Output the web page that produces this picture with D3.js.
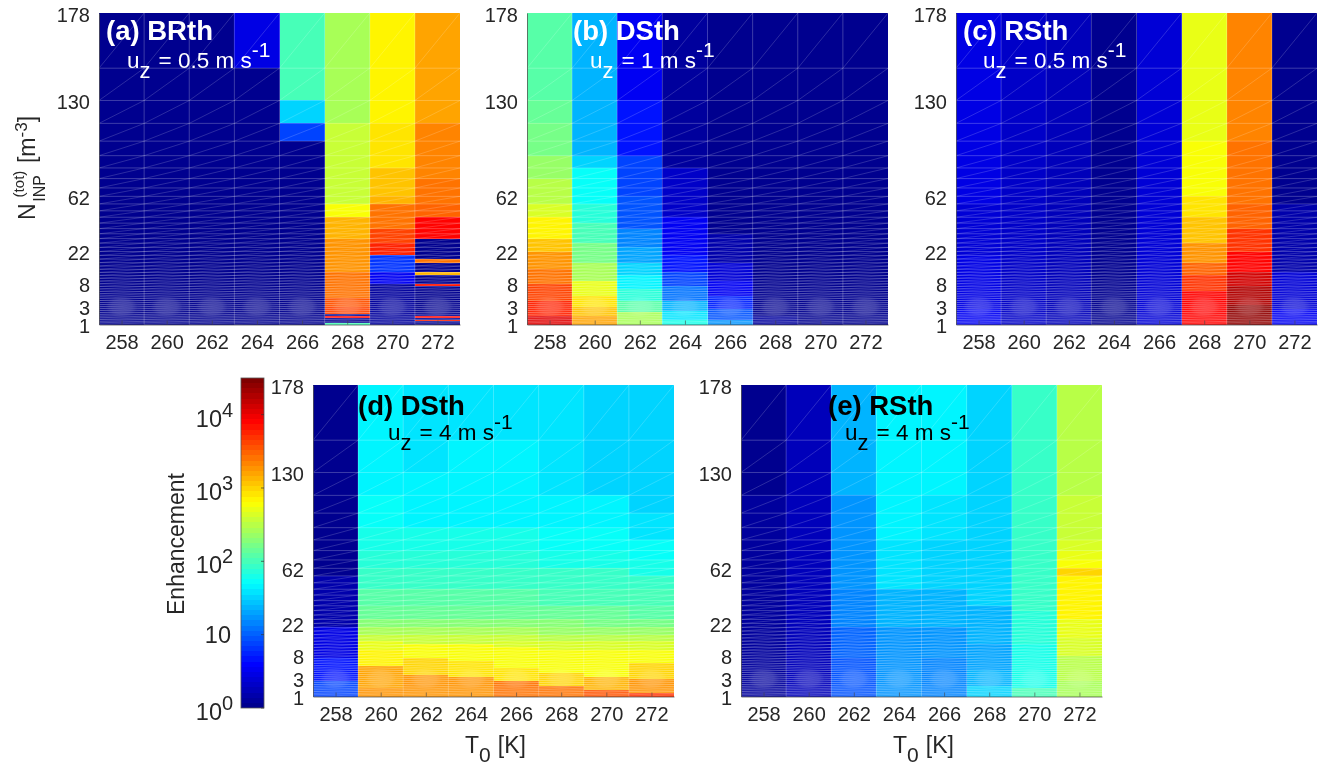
<!DOCTYPE html>
<html>
<head>
<meta charset="utf-8">
<script src="https://cdn.jsdelivr.net/npm/d3@7"></script>
<style>
  html, body { margin: 0; padding: 0; background: #fff; }
  svg { display: block; font-family: "Liberation Sans", Arial, sans-serif; filter: blur(0.35px); }
  .tick text { font-size: 20px; fill: #262626; }
</style>
</head>
<body>
<script>
// x categories and y ticks (y axis is log of the row number, row 1 on top)
const temps = [258, 260, 262, 264, 266, 268, 270, 272]
const yTickRows = [1, 3, 10, 20, 30, 40, 50]
const yTickLabels = [178, 130, 62, 22, 8, 3, 1]
const barTicks = [1, 10, 100, 1000, 10000]
const barLabels = ['0', '', '2', '3', '4']

// enhancement per column, written as [first row, value] steps, rows 1..49
const brth05 = [
  [[1, 1]],
  [[1, 1]],
  [[1, 1]],
  [[1, 3], [2, 1]],
  [[1, 100], [3, 35], [4, 8], [5, 1]],
  [[1, 270], [4, 350], [11, 620], [13, 1300], [17, 1800], [26, 2500], [36, 3500], [40, 4500], [44, 1], [45, 8000], [46, 1], [49, 100]],
  [[1, 650], [4, 800], [7, 1100], [10, 1300], [11, 2700], [15, 4000], [18, 5500], [21, 6], [26, 3.6], [30, 1.3]],
  [[1, 1500], [3, 1700], [4, 2100], [8, 2500], [11, 3000], [13, 7500], [17, 1], [22, 2500], [23, 1], [26, 1400], [27, 1], [30, 7000], [31, 1], [45, 8000], [46, 1], [47, 6000], [48, 1]]
]
const dsth1 = [
  [[1, 110], [3, 130], [4, 170], [6, 230], [8, 320], [11, 450], [13, 700], [17, 1200], [20, 1800], [25, 2700], [30, 4000], [37, 6000], [45, 11000]],
  [[1, 22], [3, 25], [6, 35], [7, 50], [11, 70], [14, 100], [18, 160], [23, 280], [29, 500], [35, 850], [40, 1200], [45, 1700]],
  [[1, 3.6], [3, 5], [6, 7], [10, 9], [15, 13.5], [19, 20], [23, 30], [27, 48], [32, 70], [37, 120], [43, 250]],
  [[1, 1.2], [7, 2.2], [13, 3.2], [21, 5], [26, 7.5], [31, 12], [37, 22], [42, 40], [47, 65]],
  [[1, 1], [16, 1.4], [23, 2.6], [29, 3.6], [35, 5.5], [41, 9], [47, 16]],
  [[1, 1], [45, 1.2]],
  [[1, 1]],
  [[1, 1]]
]
const rsth05 = [
  [[1, 3], [4, 2.7], [11, 2.5], [21, 3], [41, 3.6]],
  [[1, 2], [11, 2.2]],
  [[1, 1.7]],
  [[1, 1.1]],
  [[1, 2.3]],
  [[1, 520], [5, 620], [10, 800], [13, 1200], [18, 1800], [23, 2800], [27, 5000], [33, 8500]],
  [[1, 2100], [5, 2500], [11, 3200], [15, 5000], [20, 8500], [26, 13000], [31, 18000], [39, 25000]],
  [[1, 1.1], [11, 1.4], [26, 2.5], [41, 3.6]]
]
const dsth4 = [
  [[1, 1], [11, 1.6], [21, 3], [31, 5], [41, 7]],
  [[1, 45], [4, 50], [6, 60], [8, 70], [10, 88], [13, 110], [16, 140], [19, 190], [21, 260], [23, 350], [25, 480], [28, 700], [34, 1500], [45, 1800]],
  [[1, 40], [3, 48], [6, 60], [8, 70], [10, 88], [13, 110], [16, 140], [19, 190], [21, 260], [23, 360], [26, 640], [31, 900], [38, 1800]],
  [[1, 38], [2, 42], [4, 48], [6, 60], [8, 70], [10, 88], [13, 110], [16, 140], [19, 190], [21, 260], [23, 360], [26, 620], [32, 850], [39, 2000]],
  [[1, 36], [2, 42], [4, 48], [6, 60], [8, 70], [10, 88], [13, 110], [16, 140], [19, 190], [21, 260], [23, 340], [25, 460], [27, 600], [35, 850], [41, 2400]],
  [[1, 36], [3, 40], [4, 45], [6, 56], [8, 66], [10, 84], [13, 105], [16, 135], [19, 180], [21, 245], [23, 330], [25, 440], [28, 580], [37, 1000], [44, 2600]],
  [[1, 35], [2, 33], [4, 42], [6, 54], [8, 64], [10, 82], [13, 102], [16, 130], [19, 175], [21, 235], [23, 320], [25, 430], [28, 560], [39, 1300], [46, 3500]],
  [[1, 30], [3, 34], [5, 40], [7, 50], [9, 62], [11, 80], [13, 100], [16, 125], [19, 165], [21, 220], [23, 300], [25, 410], [28, 560], [33, 1000], [40, 2000], [48, 5000]]
]
const rsth4 = [
  [[1, 1], [4, 1.2]],
  [[1, 1.9]],
  [[1, 22], [4, 18], [13, 14], [21, 10], [31, 9]],
  [[1, 45], [7, 36], [13, 22], [21, 17], [31, 16]],
  [[1, 45], [4, 38], [7, 32], [13, 22], [21, 17], [31, 15]],
  [[1, 32], [7, 30], [16, 24], [26, 20], [36, 22], [44, 30]],
  [[1, 90], [11, 85], [17, 72], [26, 65], [36, 60], [45, 100]],
  [[1, 320], [4, 340], [7, 400], [8, 520], [9, 620], [10, 900], [11, 650], [19, 520], [24, 420], [30, 330], [41, 260]]
]

const panels = [
  { label: '(a) BRth', speed: '0.5', steps: brth05, left: 99, top: 13, textColor: '#fff', tx: 106, ty: 40, ux: 127, uy: 68 },
  { label: '(b) DSth', speed: '1', steps: dsth1, left: 527, top: 13, textColor: '#fff', tx: 573, ty: 40, ux: 590, uy: 68 },
  { label: '(c) RSth', speed: '0.5', steps: rsth05, left: 956, top: 13, textColor: '#fff', tx: 963, ty: 40, ux: 983, uy: 68 },
  { label: '(d) DSth', speed: '4', steps: dsth4, left: 313, top: 385, textColor: '#000', tx: 358, ty: 415, ux: 388, uy: 440, xTitle: true },
  { label: '(e) RSth', speed: '4', steps: rsth4, left: 741, top: 385, textColor: '#000', tx: 828, ty: 415, ux: 845, uy: 440, xTitle: true }
]

const width = 1331
const height = 765
const panelW = 361
const panelH = 311.5
const rows = d3.range(1, 50)

const svg = d3.select('body').append('svg')
  .attr('width', width)
  .attr('height', height)

// matlab jet, 64 levels
const jetLinear = d3.scaleLinear()
  .domain([0, 0.125, 0.375, 0.625, 0.875, 1])
  .range(['#00008f', '#0000ff', '#00ffff', '#ffff00', '#ff0000', '#800000'])
const colorPos = d3.scaleLog().domain([1, 31600]).range([0, 1]).clamp(true)
const jet = v => jetLinear(Math.min(63, Math.floor(colorPos(v) * 64)) / 63)

// soft light spot from the pcolor edges around row 40
const defs = svg.append('defs')
const spot = defs.append('radialGradient').attr('id', 'spot')
spot.append('stop').attr('offset', '0%').attr('stop-color', '#fff').attr('stop-opacity', 0.13)
spot.append('stop').attr('offset', '65%').attr('stop-color', '#fff').attr('stop-opacity', 0.09)
spot.append('stop').attr('offset', '100%').attr('stop-color', '#fff').attr('stop-opacity', 0)

const valueAt = (steps, row) => {
  let v = steps[0][1]
  steps.forEach(s => { if (row >= s[0]) v = s[1] })
  return v
}

panels.forEach(p => {
  const g = svg.append('g').attr('transform', `translate(${p.left}, ${p.top})`)

  const xScale = d3.scaleLinear().domain([257, 273]).range([0, panelW])
  const yScale = d3.scaleLog().domain([1, 50]).range([0, panelH])

  // cells
  temps.forEach((t, i) => {
    g.append('g').selectAll('rect')
      .data(rows)
      .enter()
      .append('rect')
      .attr('x', xScale(t - 1))
      .attr('width', xScale(t + 1) - xScale(t - 1))
      .attr('y', d => yScale(d))
      .attr('height', d => yScale(d + 1) - yScale(d))
      .attr('fill', d => jet(valueAt(p.steps[i], d)))
      .attr('shape-rendering', 'crispEdges')
  })

  // cell edges
  const edges = g.append('g')
    .attr('stroke', '#fff')
    .attr('stroke-opacity', 0.34)
    .attr('stroke-width', 0.7)

  edges.selectAll('line.h')
    .data(d3.range(2, 50))
    .enter()
    .append('line')
    .attr('class', 'h')
    .attr('x1', 0)
    .attr('x2', panelW)
    .attr('y1', d => yScale(d))
    .attr('y2', d => yScale(d))

  edges.selectAll('line.v')
    .data(temps.slice(1))
    .enter()
    .append('line')
    .attr('class', 'v')
    .attr('x1', d => xScale(d - 1))
    .attr('x2', d => xScale(d - 1))
    .attr('y1', 0)
    .attr('y2', panelH)

  // triangle diagonals
  temps.forEach(t => {
    edges.append('g')
      .attr('stroke-opacity', 0.34)
      .attr('stroke-width', 0.5)
      .selectAll('line')
      .data(rows)
      .enter()
      .append('line')
      .attr('x1', xScale(t - 1))
      .attr('x2', xScale(t + 1))
      .attr('y1', d => yScale(d + 1))
      .attr('y2', d => yScale(d))
  })

  // light spot per column
  g.append('g').selectAll('ellipse')
    .data(temps)
    .enter()
    .append('ellipse')
    .attr('cx', d => xScale(d))
    .attr('cy', yScale(40))
    .attr('rx', 16)
    .attr('ry', 11)
    .attr('fill', 'url(#spot)')

  // axes
  const xAxis = d3.axisBottom(xScale)
    .tickValues(temps)
    .tickFormat(d => d)
    .tickSizeInner(-4)
    .tickSizeOuter(0)
    .tickPadding(10)

  const xG = g.append('g')
    .attr('transform', `translate(0, ${panelH})`)
    .call(xAxis)
  xG.select('.domain').attr('stroke', '#555').attr('stroke-width', 0.8)
  xG.selectAll('line').attr('stroke', '#444').attr('stroke-width', 0.6)

  const yAxis = d3.axisLeft(yScale)
    .tickValues(yTickRows)
    .tickFormat((d, i) => yTickLabels[i])
    .tickSize(0)
    .tickPadding(9)

  const yG = g.append('g').call(yAxis)
  yG.select('.domain').attr('stroke', '#555').attr('stroke-width', 0.8)
  yG.selectAll('text').attr('dy', '0.4em')

  // panel titles
  svg.append('text')
    .attr('x', p.tx)
    .attr('y', p.ty)
    .attr('fill', p.textColor)
    .attr('font-size', 27.5)
    .attr('font-weight', 'bold')
    .text(p.label)

  const speedText = svg.append('text')
    .attr('x', p.ux)
    .attr('y', p.uy)
    .attr('fill', p.textColor)
    .attr('font-size', 22.5)
  speedText.append('tspan').text('u')
  speedText.append('tspan').attr('dy', 10).attr('font-size', 22).text('z')
  speedText.append('tspan').attr('dy', -10).attr('dx', 8).text(`= ${p.speed} m s`)
  speedText.append('tspan').attr('dy', -11).attr('font-size', 21).text('-1')

  // x title
  if (p.xTitle) {
    const xTitle = svg.append('text')
      .attr('x', p.left + panelW / 2 - 28.5)
      .attr('y', 753)
      .attr('fill', '#262626')
      .attr('font-size', 23)
    xTitle.append('tspan').text('T')
    xTitle.append('tspan').attr('dy', 9).attr('font-size', 21).text('0')
    xTitle.append('tspan').attr('dy', -9).attr('dx', 7).text('[K]')
  }
})

// y title of panel a
const yTitle = svg.append('text')
  .attr('transform', 'translate(35, 220) rotate(-90)')
  .attr('fill', '#262626')
  .attr('font-size', 23)
yTitle.append('tspan').text('N')
yTitle.append('tspan').attr('dy', -11).attr('dx', 6).attr('font-size', 15).text('(tot)')
yTitle.append('tspan').attr('dy', 21).attr('dx', -31).attr('font-size', 16).text('INP')
yTitle.append('tspan').attr('dy', -10).attr('dx', 12).text('[m')
yTitle.append('tspan').attr('dy', -8).attr('font-size', 17).text('-3')
yTitle.append('tspan').attr('dy', 8).text(']')

// colorbar
const barLeft = 241
const barW = 23
const barY = d3.scaleLog().domain([1, 31600]).range([708, 378])
const barLevels = d3.range(0, 64)
const bar = svg.append('g')

bar.selectAll('rect')
  .data(barLevels)
  .enter()
  .append('rect')
  .attr('x', barLeft)
  .attr('width', barW)
  .attr('y', d => 708 - (d + 1) * 330 / 64)
  .attr('height', 330 / 64)
  .attr('fill', d => jetLinear(d / 63))
  .attr('shape-rendering', 'crispEdges')

bar.append('rect')
  .attr('x', barLeft)
  .attr('y', 378)
  .attr('width', barW)
  .attr('height', 330)
  .attr('fill', 'none')
  .attr('stroke', '#555')
  .attr('stroke-width', 0.8)

barTicks.forEach((t, i) => {
  bar.append('line')
    .attr('x1', barLeft + barW - 3)
    .attr('x2', barLeft + barW)
    .attr('y1', barY(t))
    .attr('y2', barY(t))
    .attr('stroke', '#333')
    .attr('stroke-width', 0.7)
  const label = bar.append('text')
    .attr('text-anchor', 'end')
    .attr('fill', '#262626')
    .attr('font-size', 23.5)
    .text('10')
  if (barLabels[i] === '') {
    label.attr('x', barLeft - 10).attr('y', barY(t) + 8)
  } else {
    label.attr('x', barLeft - 19).attr('y', barY(t) + 12)
    bar.append('text')
      .attr('x', barLeft - 19)
      .attr('y', barY(t) + 2)
      .attr('fill', '#262626')
      .attr('font-size', 20)
      .text(barLabels[i])
  }
})

svg.append('text')
  .attr('transform', 'translate(184, 615) rotate(-90)')
  .attr('fill', '#262626')
  .attr('font-size', 23)
  .text('Enhancement')
</script>
</body>
</html>
